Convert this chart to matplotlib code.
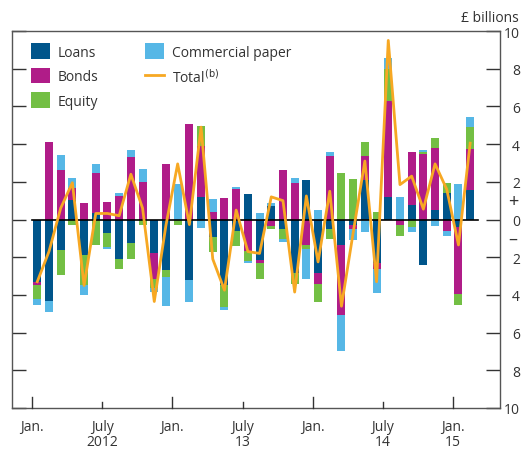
import matplotlib
matplotlib.use("Agg")
import matplotlib.pyplot as plt
import matplotlib.transforms as mtransforms
import numpy as np

plt.rcParams['font.family'] = ['Open Sans', 'DejaVu Sans']

# Monthly data, Jan 2012 - Feb 2015 (£ billions)
months = ['2012-01','2012-02','2012-03','2012-04','2012-05','2012-06','2012-07','2012-08','2012-09','2012-10','2012-11','2012-12',
          '2013-01','2013-02','2013-03','2013-04','2013-05','2013-06','2013-07','2013-08','2013-09','2013-10','2013-11','2013-12',
          '2014-01','2014-02','2014-03','2014-04','2014-05','2014-06','2014-07','2014-08','2014-09','2014-10','2014-11','2014-12',
          '2015-01','2015-02']
loans = [-3.32, -4.33, -1.64, 1.06, -1.86, 0.35, -0.74, -2.07, -1.24, 0.0, -1.77, -2.70,
         0.0, -3.23, 1.18, -0.94, -3.48, -0.62, 1.33, -2.17, 0.74, -0.53, -2.83, 2.07,
         -2.83, -0.53, -1.33, -0.30, 2.07, -2.30, 1.18, 0.0, 0.76, -2.42, 0.53, 1.38,
         -0.41, 1.59]
bonds = [-0.14, 4.12, 2.60, 0.62, 0.85, 2.14, 0.95, 1.27, 3.32, 2.01, -1.41, 2.92,
         0.0, 5.09, 2.70, 0.42, 1.15, 1.60, -1.68, -0.12, -0.32, 2.60, 1.91, -1.33,
         -0.57, 3.36, -3.71, -0.23, 1.29, -0.30, 5.12, -0.30, 2.83, 3.45, 3.24, -0.62,
         -3.52, 2.17]
equity = [-0.78, 0.0, -1.31, -0.27, -1.59, -1.33, -0.71, -0.58, -0.88, -0.27, -0.48, -0.35,
          -0.27, 0.0, 1.10, -0.80, -1.17, -0.80, -0.53, -0.88, -0.16, -0.53, -0.57, -0.21,
          -0.99, -0.48, 2.47, 2.17, 0.76, 0.41, 1.68, -0.58, -0.41, 0.12, 0.58, 0.57,
          -0.58, 1.13]
cp = [-0.27, -0.58, 0.80, 0.50, -0.53, 0.48, -0.14, 0.14, 0.39, 0.69, -0.19, -1.54,
      1.86, -1.15, -0.46, 0.69, -0.16, 0.14, -0.12, 0.32, 0.14, -0.14, 0.27, -1.64,
      0.53, 0.23, -1.94, -0.57, -0.67, -1.29, 0.58, 1.18, -0.27, 0.14, -0.35, -0.27,
      1.86, 0.57]
total = [-3.3, -1.7, 0.6, 1.95, -3.5, 0.32, 0.32, 0.2, 2.4, 0.6, -4.35, -0.3,
         2.95, -0.27, 4.9, -2.1, -3.75, 0.5, -1.7, -1.8, 1.2, 1.0, -3.85, 1.25,
         -2.25, 1.5, -4.6, -0.7, 3.1, -3.3, 9.5, 1.85, 2.3, 0.55, 2.95, 1.6,
         -1.35, 4.05]

tick_pos = [0, 6, 12, 18, 24, 30, 36]
tick_labels = ['Jan.', 'July', 'Jan.', 'July', 'Jan.', 'July', 'Jan.']
year_pos = [6, 18, 30, 36]
year_labels = ['2012', '13', '14', '15']
ytick_vals = [-10, -8, -6, -4, -2, 0, 2, 4, 6, 8, 10]

series = [('Loans', loans, '#00558B'), ('Bonds', bonds, '#B01C88'),
          ('Equity', equity, '#73BF44'), ('Commercial paper', cp, '#56B7E6')]

FS = 10
TXT = '#333333'

fig = plt.figure(figsize=(5.22, 4.52), dpi=100)
ax = fig.add_axes([12/522, 1-409/452, (500-12)/522, (409-32)/452])

x = np.arange(len(months)) + 0.45
pos_base = np.zeros(len(months))
neg_base = np.zeros(len(months))
handles = []
for name, vals, col in series:
    v = np.array(vals, dtype=float)
    p = np.where(v > 0, v, 0)
    n = np.where(v < 0, v, 0)
    h = ax.bar(x, p, 0.68, bottom=pos_base, color=col, label=name, linewidth=0, zorder=2)
    ax.bar(x, n, 0.68, bottom=neg_base, color=col, linewidth=0, zorder=2)
    pos_base += p
    neg_base += n
    handles.append(h)

ax.plot([0, 38.1], [0, 0], color='black', lw=1.2, zorder=3)
ln, = ax.plot(x, total, color='#F7A823', lw=2.0, zorder=4, label='Total$^{\\mathrm{(b)}}$')

ax.set_xlim(-1.71, 40.0)
ax.set_ylim(-10, 10)

trans = mtransforms.blended_transform_factory(ax.transData, ax.transAxes)

ax.set_xticks(tick_pos)
ax.set_xticklabels(tick_labels)
ax.tick_params(axis='x', which='major', direction='in', length=0, pad=8,
               labelsize=FS, labelcolor=TXT)
for tp, lab in zip(tick_pos, tick_labels):
    L = 0.028 if lab == 'Jan.' else 0.016
    ax.plot([tp, tp], [0, L], transform=trans, color=TXT, lw=1.0, clip_on=False, zorder=5)

for yp, yl in zip(year_pos, year_labels):
    ax.text(yp, -0.09, yl, transform=trans, ha='center', va='center', fontsize=FS, color=TXT)

ax.set_yticks(ytick_vals)
ax.set_yticklabels([str(abs(v)) for v in ytick_vals])
ax.tick_params(axis='y', which='major', direction='in', left=True, right=True,
               labelleft=False, labelright=True, length=10, width=1.0, color=TXT,
               pad=14.4, labelsize=FS, labelcolor=TXT)
for t in ax.get_yticklabels():
    t.set_horizontalalignment('right')

for s in ['left', 'right', 'bottom', 'top']:
    ax.spines[s].set_color('#555555')
    ax.spines[s].set_linewidth(1.0)

ax.text(1.027, 1.0 / 20 + 0.5, '+', transform=ax.transAxes, ha='center', va='center',
        fontsize=13, color=TXT)
ax.text(1.027, -1.0 / 20 + 0.5, '–', transform=ax.transAxes, ha='center', va='center',
        fontsize=13, color=TXT)
fig.text(519/522, 1-18/452, '£ billions', ha='right', va='center', fontsize=FS, color=TXT)

leg = ax.legend(handles=handles + [ln],
                labels=['Loans', 'Bonds', 'Equity', 'Commercial paper', 'Total$^{\\mathrm{(b)}}$'],
                loc='upper left', bbox_to_anchor=(0.039, 0.968), ncol=2, frameon=False,
                fontsize=FS, handlelength=1.37, handleheight=1.37, handletextpad=0.58,
                columnspacing=3.3, labelspacing=0.58, borderaxespad=0, borderpad=0)
for t in leg.get_texts():
    t.set_color(TXT)

fig.savefig('out.png', dpi=100)
